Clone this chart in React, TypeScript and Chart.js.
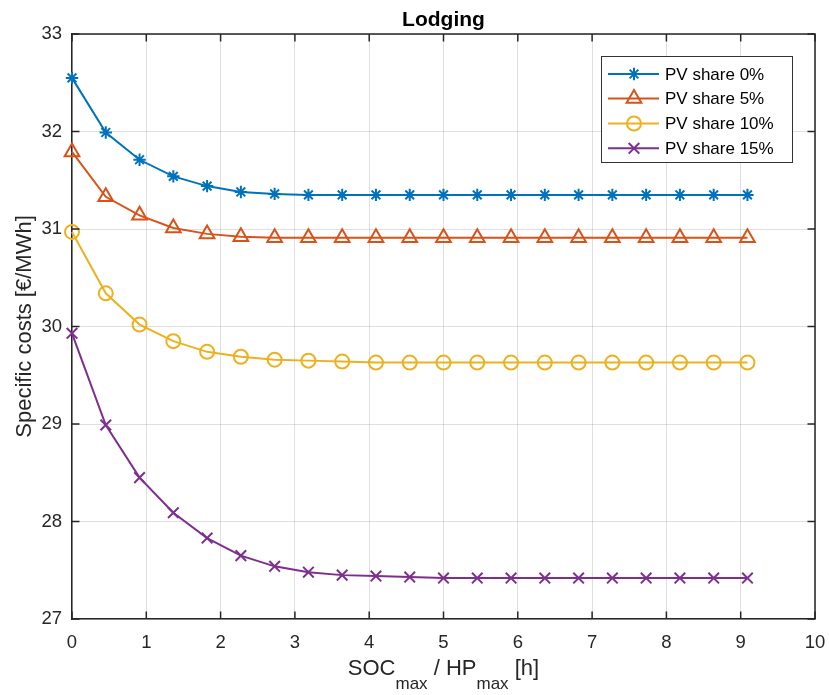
import React, { useEffect, useRef } from "react";
import { Chart, registerables } from "chart.js";

Chart.register(...registerables);

const chartTitle = "Lodging";
const yAxisLabel = "Specific costs [€/MWh]";
const seriesNames = ["PV share 0%", "PV share 5%", "PV share 10%", "PV share 15%"];
const xTicks = [0, 1, 2, 3, 4, 5, 6, 7, 8, 9, 10];
const yTicks = [27, 28, 29, 30, 31, 32, 33];

const xValues = [
  0, 0.4545, 0.9091, 1.3636, 1.8182, 2.2727, 2.7273, 3.1818, 3.6364, 4.0909, 4.5455,
  5.0, 5.4545, 5.9091, 6.3636, 6.8182, 7.2727, 7.7273, 8.1818, 8.6364, 9.0909,
];
const pv0 = [
  32.55, 31.99, 31.71, 31.54, 31.44, 31.38, 31.36, 31.35, 31.35, 31.35, 31.35,
  31.35, 31.35, 31.35, 31.35, 31.35, 31.35, 31.35, 31.35, 31.35, 31.35,
];
const pv5 = [
  31.79, 31.33, 31.14, 31.01, 30.95, 30.92, 30.91, 30.91, 30.91, 30.91, 30.91,
  30.91, 30.91, 30.91, 30.91, 30.91, 30.91, 30.91, 30.91, 30.91, 30.91,
];
const pv10 = [
  30.97, 30.34, 30.02, 29.85, 29.74, 29.69, 29.66, 29.65, 29.64, 29.63, 29.63,
  29.63, 29.63, 29.63, 29.63, 29.63, 29.63, 29.63, 29.63, 29.63, 29.63,
];
const pv15 = [
  29.93, 28.99, 28.45, 28.09, 27.83, 27.65, 27.54, 27.48, 27.45, 27.44, 27.43,
  27.42, 27.42, 27.42, 27.42, 27.42, 27.42, 27.42, 27.42, 27.42, 27.42,
];

const colors = ["#0072BD", "#D95319", "#EDB120", "#7E2F8E"];
const styles = ["star", "triangle", "circle", "crossRot"];
const radii = [6.2, 8.5, 7, 7.5];
const axisColor = "#262626";
const FONT = '"Liberation Sans", Arial, sans-serif';

function drawMarker(ctx: CanvasRenderingContext2D, style: string, x: number, y: number, r: number) {
  ctx.beginPath();
  if (style === "circle") {
    ctx.arc(x, y, r, 0, Math.PI * 2);
  } else if (style === "triangle") {
    let a = 0;
    ctx.moveTo(x + Math.sin(a) * r, y - Math.cos(a) * r);
    a += (2 * Math.PI) / 3;
    ctx.lineTo(x + Math.sin(a) * r, y - Math.cos(a) * r);
    a += (2 * Math.PI) / 3;
    ctx.lineTo(x + Math.sin(a) * r, y - Math.cos(a) * r);
    ctx.closePath();
  } else if (style === "crossRot") {
    const o = Math.cos(Math.PI / 4) * r;
    ctx.moveTo(x - o, y - o);
    ctx.lineTo(x + o, y + o);
    ctx.moveTo(x - o, y + o);
    ctx.lineTo(x + o, y - o);
  } else if (style === "star") {
    ctx.moveTo(x - r, y);
    ctx.lineTo(x + r, y);
    ctx.moveTo(x, y - r);
    ctx.lineTo(x, y + r);
    const o = Math.cos(Math.PI / 4) * r;
    ctx.moveTo(x - o, y - o);
    ctx.lineTo(x + o, y + o);
    ctx.moveTo(x - o, y + o);
    ctx.lineTo(x + o, y - o);
  }
  ctx.stroke();
}

const decorPlugin = {
  id: "matlabDecor",
  afterDraw(chart: any) {
    const ctx: CanvasRenderingContext2D = chart.ctx;
    const area = chart.chartArea;
    const xs = chart.scales.x;
    const ys = chart.scales.y;
    ctx.save();
    ctx.strokeStyle = axisColor;
    ctx.lineWidth = 1.5;
    ctx.beginPath();
    ctx.moveTo(area.left, area.top);
    ctx.lineTo(area.right, area.top);
    ctx.lineTo(area.right, area.bottom);
    ctx.stroke();
    const tl = 7.5;
    ctx.beginPath();
    xTicks.forEach((v) => {
      const px = xs.getPixelForValue(v);
      ctx.moveTo(px, area.bottom);
      ctx.lineTo(px, area.bottom - tl);
      ctx.moveTo(px, area.top);
      ctx.lineTo(px, area.top + tl);
    });
    yTicks.forEach((v) => {
      const py = ys.getPixelForValue(v);
      ctx.moveTo(area.left, py);
      ctx.lineTo(area.left + tl, py);
      ctx.moveTo(area.right, py);
      ctx.lineTo(area.right - tl, py);
    });
    ctx.stroke();

    const cx = (area.left + area.right) / 2;
    ctx.fillStyle = "#000";
    ctx.font = "bold 21px " + FONT;
    ctx.textAlign = "center";
    ctx.textBaseline = "alphabetic";
    ctx.fillText(chartTitle, cx, 26);

    ctx.save();
    ctx.translate(31, (area.top + area.bottom) / 2);
    ctx.rotate(-Math.PI / 2);
    ctx.fillStyle = axisColor;
    ctx.font = "22px " + FONT;
    ctx.textAlign = "center";
    ctx.textBaseline = "alphabetic";
    ctx.fillText(yAxisLabel, 0, 0);
    ctx.restore();

    const parts = [
      { t: "SOC", sub: false },
      { t: "max", sub: true },
      { t: " / HP", sub: false },
      { t: "max", sub: true },
      { t: " [h]", sub: false },
    ];
    const mainFont = "22px " + FONT;
    const subFont = "17px " + FONT;
    let total = 0;
    parts.forEach((p) => {
      ctx.font = p.sub ? subFont : mainFont;
      total += ctx.measureText(p.t).width;
    });
    let x = cx - total / 2;
    ctx.fillStyle = axisColor;
    ctx.textAlign = "left";
    parts.forEach((p) => {
      ctx.font = p.sub ? subFont : mainFont;
      ctx.fillText(p.t, x, p.sub ? 689 : 675);
      x += ctx.measureText(p.t).width;
    });

    const lx = 601, ly = 56, lw = 191, lh = 106;
    ctx.fillStyle = "#fff";
    ctx.fillRect(lx, ly, lw, lh);
    ctx.strokeStyle = "#333";
    ctx.lineWidth = 1;
    ctx.strokeRect(lx + 0.5, ly + 0.5, lw, lh);
    const rows = [74, 98.5, 123.5, 148.3];
    seriesNames.forEach((name, i) => {
      const ry = rows[i];
      ctx.strokeStyle = colors[i];
      ctx.lineWidth = 2;
      ctx.beginPath();
      ctx.moveTo(608, ry);
      ctx.lineTo(659, ry);
      ctx.stroke();
      ctx.lineWidth = 2;
      drawMarker(ctx, styles[i], 634, ry, radii[i]);
      ctx.fillStyle = "#000";
      ctx.font = "17px " + FONT;
      ctx.textAlign = "left";
      ctx.textBaseline = "middle";
      ctx.fillText(name, 665, ry + 1);
    });
    ctx.restore();
  },
};

export default function App() {
  const ref = useRef<HTMLCanvasElement>(null);
  useEffect(() => {
    if (!ref.current) return;
    const series = [pv0, pv5, pv10, pv15];
    const chart = new Chart(ref.current, {
      type: "line",
      data: {
        datasets: series.map((s, i) => ({
          label: seriesNames[i],
          data: s.map((v, j) => ({ x: xValues[j], y: v })),
          borderColor: colors[i],
          backgroundColor: colors[i],
          borderWidth: 2,
          pointStyle: styles[i] as any,
          pointRadius: radii[i],
          pointHoverRadius: radii[i],
          pointBorderColor: colors[i],
          pointBackgroundColor: "rgba(0,0,0,0)",
          pointBorderWidth: 2,
          tension: 0,
          fill: false,
          clip: false as any,
        })),
      },
      options: {
        animation: false,
        responsive: false,
        events: [],
        layout: { padding: { top: 34, right: 14, left: 0, bottom: 0 } },
        plugins: {
          legend: { display: false },
          title: { display: false },
          tooltip: { enabled: false },
        },
        scales: {
          x: {
            type: "linear",
            min: 0,
            max: 10,
            afterBuildTicks: (scale: any) => {
              scale.ticks = xTicks.map((v) => ({ value: v }));
            },
            afterFit: (scale: any) => {
              scale.height = 76;
              scale.paddingLeft = 0;
              scale.paddingRight = 0;
            },
            ticks: {
              color: axisColor,
              font: { family: FONT, size: 18.5 },
              padding: 13,
              maxRotation: 0,
              autoSkip: false,
            },
            grid: { color: "rgba(38,38,38,0.15)", lineWidth: 1, drawTicks: false },
            border: { display: true, color: axisColor, width: 1.5 },
          },
          y: {
            type: "linear",
            min: 27,
            max: 33,
            afterBuildTicks: (scale: any) => {
              scale.ticks = yTicks.map((v) => ({ value: v }));
            },
            afterFit: (scale: any) => {
              scale.width = 72;
              scale.paddingTop = 0;
              scale.paddingBottom = 0;
            },
            ticks: {
              color: axisColor,
              font: { family: FONT, size: 18.5 },
              padding: 10,
              autoSkip: false,
            },
            grid: { color: "rgba(38,38,38,0.15)", lineWidth: 1, drawTicks: false },
            border: { display: true, color: axisColor, width: 1.5 },
          },
        },
      },
      plugins: [decorPlugin],
    });
    return () => chart.destroy();
  }, []);
  return (
    <div style={{ position: "fixed", left: 0, top: 0, width: 829, height: 695, background: "#fff" }}>
      <canvas ref={ref} width={829} height={695} style={{ display: "block" }} />
    </div>
  );
}
